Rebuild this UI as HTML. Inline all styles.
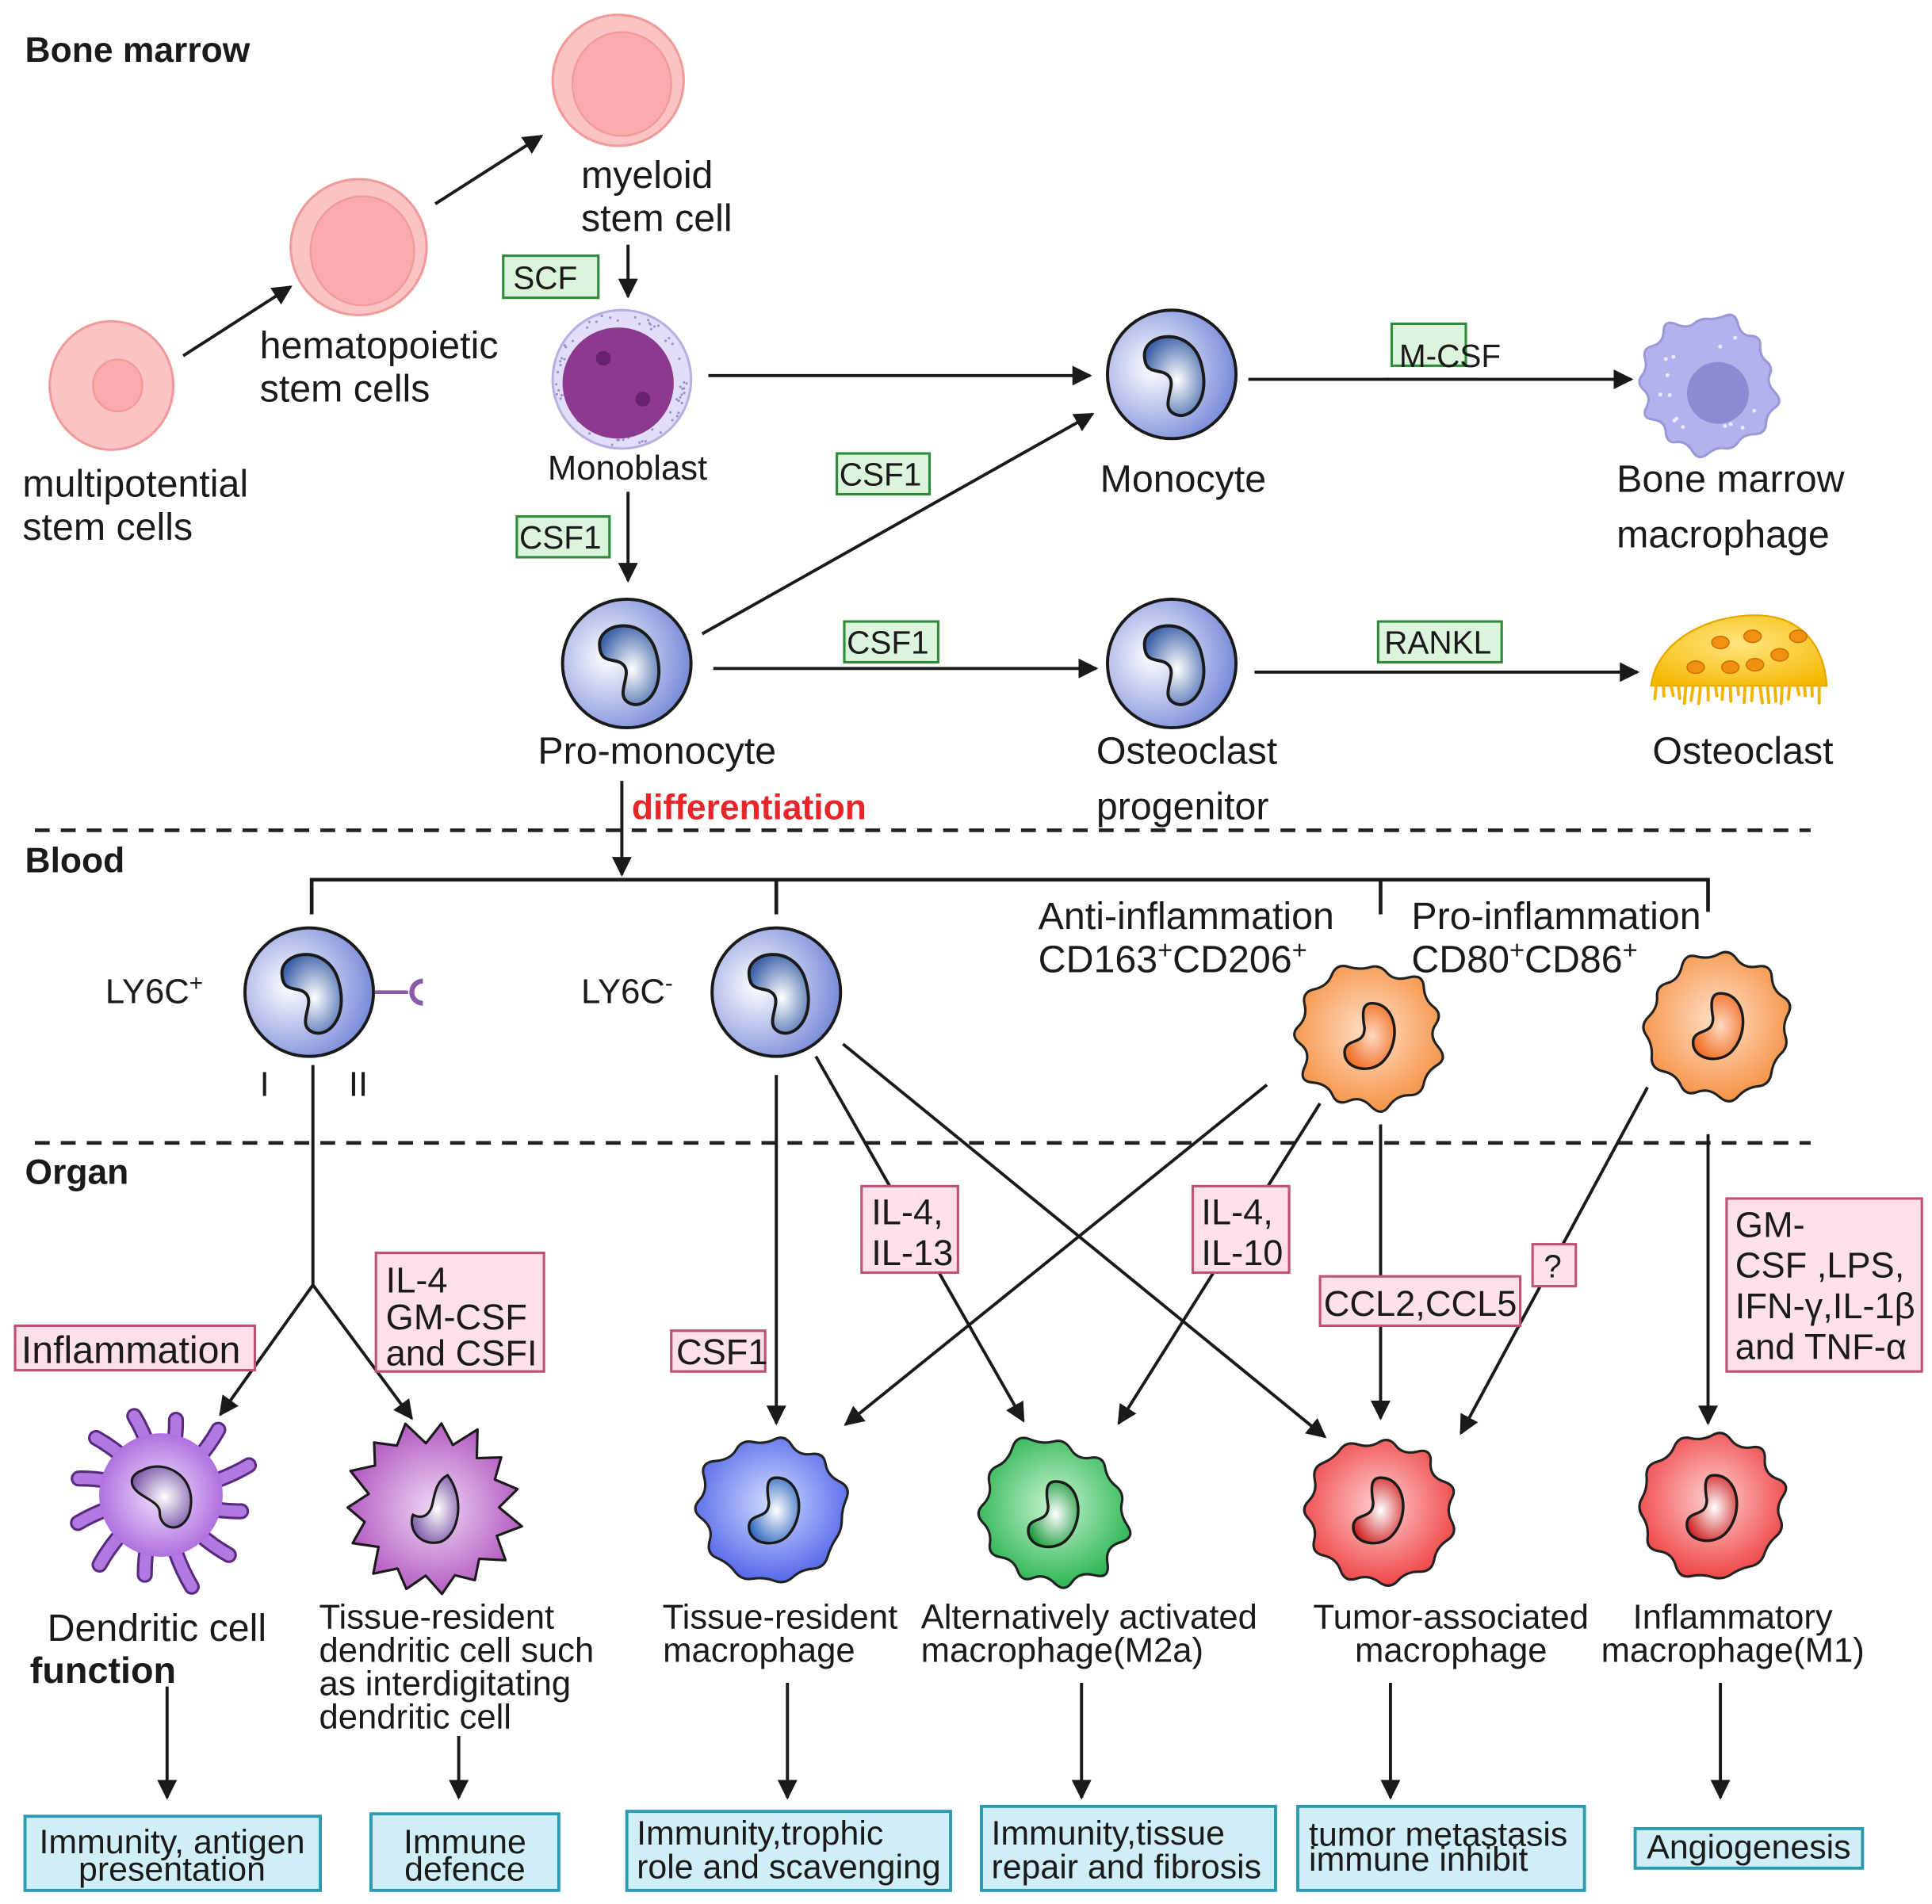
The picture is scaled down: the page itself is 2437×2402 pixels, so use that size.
<!DOCTYPE html>
<html><head><meta charset="utf-8"><style>
html,body{margin:0;padding:0;background:#fff;}
svg{display:block;}
text{font-family:"Liberation Sans",sans-serif;fill:#1a1a1a;}
.t{font-size:31px;}
.s{font-size:28px;}
.g{font-size:26px;}
.p{font-size:29px;}
.c{font-size:27.5px;}
.b{font-weight:bold;font-size:28.5px;}
</style></head><body>
<svg id="sv" width="2437" height="2402" viewBox="0 0 1563 1541" xmlns="http://www.w3.org/2000/svg">
<defs>
<marker id="ar2" viewBox="0 0 10 10" refX="9" refY="5" markerWidth="16" markerHeight="16" orient="auto" markerUnits="userSpaceOnUse"><path d="M0,0 L10,5 L0,10 Z" fill="#1a1a1a"/></marker>
<radialGradient id="gblue" cx="35%" cy="45%" r="70%"><stop offset="0" stop-color="#ffffff"/><stop offset="1" stop-color="#6e82d6"/></radialGradient>
<radialGradient id="gnuc" cx="55%" cy="55%" r="60%"><stop offset="0" stop-color="#ffffff"/><stop offset="1" stop-color="#3c62a8"/></radialGradient>
<radialGradient id="gor" cx="50%" cy="45%" r="60%"><stop offset="0" stop-color="#ffe0c8"/><stop offset="1" stop-color="#f58c3a"/></radialGradient>
<radialGradient id="gornuc" cx="55%" cy="50%" r="60%"><stop offset="0" stop-color="#ffd9c0"/><stop offset="1" stop-color="#f06a20"/></radialGradient>
<radialGradient id="gtb" cx="50%" cy="45%" r="60%"><stop offset="0" stop-color="#d0dcff"/><stop offset="1" stop-color="#4a5ee8"/></radialGradient>
<radialGradient id="gtbn" cx="55%" cy="50%" r="60%"><stop offset="0" stop-color="#ffffff"/><stop offset="1" stop-color="#2f68c0"/></radialGradient>
<radialGradient id="ggr" cx="50%" cy="45%" r="60%"><stop offset="0" stop-color="#c8f5d0"/><stop offset="1" stop-color="#1fb048"/></radialGradient>
<radialGradient id="ggrn" cx="55%" cy="50%" r="60%"><stop offset="0" stop-color="#ffffff"/><stop offset="1" stop-color="#1a9a3a"/></radialGradient>
<radialGradient id="grd" cx="50%" cy="45%" r="60%"><stop offset="0" stop-color="#ffd0d0"/><stop offset="1" stop-color="#ee3a3a"/></radialGradient>
<radialGradient id="grdn" cx="55%" cy="50%" r="60%"><stop offset="0" stop-color="#ffffff"/><stop offset="1" stop-color="#d02020"/></radialGradient>
<radialGradient id="gpu" cx="50%" cy="50%" r="60%"><stop offset="0" stop-color="#f2e2ff"/><stop offset="1" stop-color="#a25ad8"/></radialGradient>
<radialGradient id="gpu2" cx="50%" cy="50%" r="60%"><stop offset="0" stop-color="#efd8f5"/><stop offset="1" stop-color="#a845b8"/></radialGradient>
<radialGradient id="gpn" cx="55%" cy="50%" r="60%"><stop offset="0" stop-color="#ffffff"/><stop offset="1" stop-color="#7a55a8"/></radialGradient>
<radialGradient id="gyel" cx="50%" cy="40%" r="70%"><stop offset="0" stop-color="#ffe680"/><stop offset="1" stop-color="#f5b800"/></radialGradient>
</defs>

<g id="cells"></g>

<text x="20" y="50" class="b">Bone marrow</text>
<text x="20" y="706" class="b">Blood</text>
<text x="20" y="958" class="b">Organ</text>

<line x1="28" y1="672" x2="1465" y2="672" stroke="#222" stroke-width="3" stroke-dasharray="12,9"/>
<line x1="28" y1="925" x2="1465" y2="925" stroke="#222" stroke-width="3" stroke-dasharray="12,9"/>

<text x="18" y="402" class="t">multipotential</text>
<text x="18" y="437" class="t">stem cells</text>
<text x="210" y="290" class="t">hematopoietic</text>
<text x="210" y="325" class="t">stem cells</text>
<text x="470" y="152" class="t">myeloid</text>
<text x="470" y="187" class="t">stem cell</text>
<text x="443" y="388" class="s">Monoblast</text>
<text x="890" y="398" class="t">Monocyte</text>
<text x="1308" y="398" class="t">Bone marrow</text>
<text x="1308" y="443" class="t">macrophage</text>
<text x="435" y="618" class="t">Pro-monocyte</text>
<text x="887" y="618" class="t">Osteoclast</text>
<text x="887" y="663" class="t">progenitor</text>
<text x="1337" y="618" class="t">Osteoclast</text>
<text x="511" y="663" class="b" style="fill:#e8262a">differentiation</text>

<g stroke="#1a1a1a" stroke-width="2.5" fill="none">
<line x1="148" y1="288" x2="235" y2="232" marker-end="url(#ar2)"/>
<line x1="352" y1="165" x2="438" y2="110" marker-end="url(#ar2)"/>
<line x1="508" y1="198" x2="508" y2="240" marker-end="url(#ar2)"/>
<line x1="573" y1="304" x2="882" y2="304" marker-end="url(#ar2)"/>
<line x1="1010" y1="307" x2="1320" y2="307" marker-end="url(#ar2)"/>
<line x1="508" y1="398" x2="508" y2="470" marker-end="url(#ar2)"/>
<line x1="568" y1="513" x2="884" y2="335" marker-end="url(#ar2)"/>
<line x1="577" y1="541" x2="887" y2="541" marker-end="url(#ar2)"/>
<line x1="1015" y1="544" x2="1325" y2="544" marker-end="url(#ar2)"/>
<line x1="503" y1="632" x2="503" y2="708" marker-end="url(#ar2)"/>
<polyline points="252,740 252,712 1382,712 1382,738" stroke-width="3"/>
<line x1="628" y1="712" x2="628" y2="740" stroke-width="3"/>
<line x1="1117" y1="712" x2="1117" y2="740" stroke-width="3"/>
<polyline points="253,862 253,1040"/>
<line x1="253" y1="1040" x2="178" y2="1145" marker-end="url(#ar2)"/>
<line x1="253" y1="1040" x2="333" y2="1148" marker-end="url(#ar2)"/>
<line x1="628" y1="870" x2="628" y2="1152" marker-end="url(#ar2)"/>
<line x1="660" y1="855" x2="828" y2="1150" marker-end="url(#ar2)"/>
<line x1="682" y1="845" x2="1072" y2="1163" marker-end="url(#ar2)"/>
<line x1="1025" y1="878" x2="684" y2="1153" marker-end="url(#ar2)"/>
<line x1="1068" y1="893" x2="905" y2="1152" marker-end="url(#ar2)"/>
<line x1="1117" y1="910" x2="1117" y2="1148" marker-end="url(#ar2)"/>
<line x1="1333" y1="880" x2="1182" y2="1160" marker-end="url(#ar2)"/>
<line x1="1382" y1="918" x2="1382" y2="1152" marker-end="url(#ar2)"/>
<line x1="135" y1="1365" x2="135" y2="1455" marker-end="url(#ar2)"/>
<line x1="371" y1="1405" x2="371" y2="1455" marker-end="url(#ar2)"/>
<line x1="637" y1="1362" x2="637" y2="1455" marker-end="url(#ar2)"/>
<line x1="875" y1="1362" x2="875" y2="1455" marker-end="url(#ar2)"/>
<line x1="1125" y1="1362" x2="1125" y2="1455" marker-end="url(#ar2)"/>
<line x1="1392" y1="1362" x2="1392" y2="1455" marker-end="url(#ar2)"/>
</g>

<g fill="#dcf3dc" stroke="#2e8b3a" stroke-width="2">
<rect x="407" y="207" width="77" height="34"/>
<rect x="1126" y="262" width="60" height="34"/>
<rect x="677" y="367" width="75" height="33"/>
<rect x="418" y="418" width="75" height="33"/>
<rect x="683" y="503" width="76" height="33"/>
<rect x="1115" y="503" width="100" height="33"/>
</g>
<text x="415" y="234" class="g">SCF</text>
<text x="1132" y="297" class="g">M-CSF</text>
<text x="679" y="393" class="g">CSF1</text>
<text x="420" y="444" class="g">CSF1</text>
<text x="685" y="529" class="g">CSF1</text>
<text x="1120" y="529" class="g">RANKL</text>
<line x1="1120" y1="307" x2="1195" y2="307" stroke="#1a1a1a" stroke-width="2.5"/>

<text x="85" y="812" class="t" style="font-size:28px">LY6C<tspan dy="-10" font-size="19">+</tspan></text>
<text x="470" y="812" class="t" style="font-size:28px">LY6C<tspan dy="-10" font-size="19">-</tspan></text>
<text x="210" y="887" class="s">I</text>
<text x="282" y="887" class="s">II</text>
<text x="840" y="752" class="t">Anti-inflammation</text>
<text x="840" y="787" class="t">CD163<tspan dy="-11" font-size="21">+</tspan><tspan dy="11">CD206</tspan><tspan dy="-11" font-size="21">+</tspan></text>
<text x="1142" y="752" class="t">Pro-inflammation</text>
<text x="1142" y="787" class="t">CD80<tspan dy="-11" font-size="21">+</tspan><tspan dy="11">CD86</tspan><tspan dy="-11" font-size="21">+</tspan></text>

<g fill="#fde0ea" stroke="#c0507a" stroke-width="2">
<rect x="12" y="1073" width="194" height="36"/>
<rect x="304" y="1014" width="136" height="96"/>
<rect x="543" y="1077" width="76" height="33"/>
<rect x="697" y="960" width="78" height="70"/>
<rect x="965" y="960" width="78" height="70"/>
<rect x="1068" y="1033" width="162" height="40"/>
<rect x="1240" y="1007" width="35" height="34"/>
<rect x="1397" y="970" width="158" height="140"/>
</g>
<text x="17" y="1103" class="t">Inflammation</text>
<text x="312" y="1046" class="p">IL-4</text>
<text x="312" y="1076" class="p">GM-CSF</text>
<text x="312" y="1105" class="p">and CSFI</text>
<text x="547" y="1104" class="p">CSF1</text>
<text x="705" y="991" class="p">IL-4,</text>
<text x="705" y="1024" class="p">IL-13</text>
<text x="972" y="991" class="p">IL-4,</text>
<text x="972" y="1024" class="p">IL-10</text>
<text x="1071" y="1065" class="p">CCL2,CCL5</text>
<text x="1249" y="1034" class="g">?</text>
<text x="1404" y="1001" class="p">GM-</text>
<text x="1404" y="1034" class="p">CSF ,LPS,</text>
<text x="1404" y="1067" class="p">IFN-γ,IL-1β</text>
<text x="1404" y="1100" class="p">and TNF-α</text>

<text x="38" y="1328" class="t">Dendritic cell</text>
<text x="24" y="1362" class="b" style="font-size:30px">function</text>
<text x="258" y="1318" class="s">Tissue-resident</text>
<text x="258" y="1345" class="s">dendritic cell such</text>
<text x="258" y="1372" class="s">as interdigitating</text>
<text x="258" y="1399" class="s">dendritic cell</text>
<text x="631" y="1318" class="s" text-anchor="middle">Tissue-resident</text>
<text x="614" y="1345" class="s" text-anchor="middle">macrophage</text>
<text x="745" y="1318" class="s">Alternatively activated</text>
<text x="745" y="1345" class="s">macrophage(M2a)</text>
<text x="1174" y="1318" class="s" text-anchor="middle">Tumor-associated</text>
<text x="1174" y="1345" class="s" text-anchor="middle">macrophage</text>
<text x="1402" y="1318" class="s" text-anchor="middle">Inflammatory</text>
<text x="1402" y="1345" class="s" text-anchor="middle">macrophage(M1)</text>

<g fill="#d0eef5" stroke="#2a9bb0" stroke-width="2.5">
<rect x="20" y="1470" width="239" height="60"/>
<rect x="300" y="1468" width="152" height="62"/>
<rect x="507" y="1466" width="262" height="64"/>
<rect x="794" y="1462" width="238" height="68"/>
<rect x="1050" y="1462" width="232" height="68"/>
<rect x="1323" y="1480" width="184" height="32"/>
</g>
<text x="139" y="1500" text-anchor="middle" class="c">Immunity, antigen</text>
<text x="139" y="1522" text-anchor="middle" class="c">presentation</text>
<text x="376" y="1500" text-anchor="middle" class="c">Immune</text>
<text x="376" y="1522" text-anchor="middle" class="c">defence</text>
<text x="515" y="1493" class="c">Immunity,trophic</text>
<text x="515" y="1520" class="c">role and scavenging</text>
<text x="802" y="1493" class="c">Immunity,tissue</text>
<text x="802" y="1520" class="c">repair and fibrosis</text>
<text x="1059" y="1494" class="c">tumor metastasis</text>
<text x="1059" y="1514" class="c">immune inhibit</text>
<text x="1415" y="1504" text-anchor="middle" class="c">Angiogenesis</text>
</svg>
<script>
var NS="http://www.w3.org/2000/svg";
var g=document.getElementById("cells");
function el(tag,attrs){var e=document.createElementNS(NS,tag);for(var k in attrs)e.setAttribute(k,attrs[k]);g.appendChild(e);return e;}
function rnd(s){var x=Math.sin(s*9301+49297)*233280;return x-Math.floor(x);}
function blob(cx,cy,r,n,amp,seed,fill,stroke){
 var pts=[];for(var i=0;i<n;i++){var a=i/n*2*Math.PI;var rr=r+(i%2?amp:-amp*0.3)*(0.6+0.8*rnd(seed+i))+(rnd(seed*3+i)-0.5)*8;pts.push([cx+rr*Math.cos(a),cy+rr*Math.sin(a)]);}
 var d="";for(var i=0;i<n;i++){var p=pts[i],q=pts[(i+1)%n];var m=[(p[0]+q[0])/2,(p[1]+q[1])/2];if(i==0){var pm=pts[n-1];d+="M"+((pm[0]+p[0])/2)+","+((pm[1]+p[1])/2);}d+=" Q"+p[0]+","+p[1]+" "+m[0]+","+m[1];}
 el("path",{d:d+"Z",fill:fill,stroke:stroke||"#222","stroke-width":2});
}
function stem(cx,cy,rx,ry,ir,icx,icy){el("ellipse",{cx:cx,cy:cy,rx:rx,ry:ry,fill:"#fbc4c4",stroke:"#f29a9a","stroke-width":2});el("ellipse",{cx:icx||cx,cy:icy||cy,rx:ir,ry:ir*1.05,fill:"#f9aaaa",stroke:"#f29a9a","stroke-width":1.5});}
function mono(cx,cy,r){el("circle",{cx:cx,cy:cy,r:r,fill:"url(#gblue)",stroke:"#1a1a1a","stroke-width":2.5});
 el("path",{d:"M-22,-14 C-24,-34 16,-40 24,-8 C32,22 14,38 2,32 C-10,26 4,10 -2,2 C-8,-6 -21,2 -22,-14Z",transform:"translate("+cx+","+cy+") scale("+(r/52)+")",fill:"url(#gnuc)",stroke:"#1a1a1a","stroke-width":2.5});}
function macro(cx,cy,r,fill,nfill,seed){blob(cx,cy,r,22,10,seed,fill);
 el("path",{d:"M2,-26 C22,-26 26,4 12,20 C2,32 -22,28 -20,12 C-18,2 -4,8 -4,-6 C-6,-18 -6,-26 2,-26Z",transform:"translate("+cx+","+cy+")",fill:nfill,stroke:"#1a1a1a","stroke-width":2.2});}
stem(90,312,50,52,20,95,312);
stem(290,200,55,55,42,293,203);
stem(500,65,53,53,40,503,68);
el("circle",{cx:503,cy:307,r:56,fill:"#e2defa",stroke:"#b8b0e0","stroke-width":2});
for(var i=0;i<60;i++){var a=rnd(i)*6.28,rr=47+rnd(i+100)*7;el("circle",{cx:503+rr*Math.cos(a),cy:307+rr*Math.sin(a),r:1,fill:"#9a90c8"});}
el("circle",{cx:500,cy:310,r:45,fill:"#8b3a90"});
el("circle",{cx:488,cy:290,r:6,fill:"#6a2070"});el("circle",{cx:520,cy:323,r:6,fill:"#6a2070"});
mono(948,303,52);mono(507,537,52);mono(948,537,52);mono(250,803,52);mono(628,803,52);
el("line",{x1:303,y1:803,x2:330,y2:803,stroke:"#8a5aa8","stroke-width":3});
el("path",{d:"M342,794 A9,9 0 1,0 342,812",fill:"none",stroke:"#8a5aa8","stroke-width":4});
blob(1382,310,52,26,7,3,"#b4b2ec","#9a98d8");
el("circle",{cx:1390,cy:318,r:25,fill:"#8c8ad2"});
for(var i=0;i<14;i++){var a=rnd(i+50)*6.28,rr=32+rnd(i+70)*14;el("circle",{cx:1385+rr*Math.cos(a),cy:312+rr*Math.sin(a),r:1.6,fill:"#e8e8ff"});}
el("path",{d:"M1336,555 C1340,520 1380,498 1420,498 C1460,498 1476,525 1478,555 Z",fill:"url(#gyel)",stroke:"#e8a800","stroke-width":1.5});
for(var x=1340;x<1476;x+=6){el("line",{x1:x,y1:555,x2:x+(rnd(x)-0.5)*4,y2:562+rnd(x+3)*8,stroke:"#f0b400","stroke-width":2.5,"stroke-linecap":"round"});}
[[1392,520],[1418,515],[1440,530],[1400,540],[1420,538],[1372,540],[1455,515]].forEach(function(p){el("ellipse",{cx:p[0],cy:p[1],rx:7,ry:5,fill:"#f09010",stroke:"#d07000","stroke-width":1});});
macro(1108,838,55,"url(#gor)","url(#gornuc)",11);
macro(1390,830,55,"url(#gor)","url(#gornuc)",21);
macro(626,1222,55,"url(#gtb)","url(#gtbn)",31);
macro(852,1225,55,"url(#ggr)","url(#ggrn)",41);
macro(1115,1222,55,"url(#grd)","url(#grdn)",51);
macro(1385,1220,55,"url(#grd)","url(#grdn)",61);
(function(){var cx=130,cy=1210;for(var i=0;i<12;i++){var a=i/12*6.28+0.2,L=62+rnd(i+200)*22;var x2=cx+L*Math.cos(a),y2=cy+L*Math.sin(a);var mx=cx+L*0.6*Math.cos(a+0.15),my=cy+L*0.6*Math.sin(a+0.15);var d="M"+cx+","+cy+" Q"+mx+","+my+" "+x2+","+y2;el("path",{d:d,fill:"none",stroke:"#5a2a80","stroke-width":13,"stroke-linecap":"round"});el("path",{d:d,fill:"none",stroke:"#b07ae0","stroke-width":9,"stroke-linecap":"round"});}
 el("circle",{cx:cx,cy:cy,r:50,fill:"url(#gpu)"});
 el("path",{d:"M-18,-20 C0,-30 28,-15 20,15 C14,32 -4,28 -4,14 C-4,4 -22,2 -26,-8 C-28,-14 -24,-18 -18,-20Z",transform:"translate(133,1210)",fill:"url(#gpn)",stroke:"#1a1a1a","stroke-width":2});})();
(function(){var cx=350,cy=1220,n=30,d="";for(var i=0;i<n;i++){var a=i/n*6.28,rr=(i%2?68:52)+rnd(i+300)*6;var x=cx+rr*Math.cos(a),y=cy+rr*Math.sin(a);d+=(i?" L":"M")+x+","+y;}
 el("path",{d:d+"Z",fill:"url(#gpu2)",stroke:"#1a1a1a","stroke-width":2,"stroke-linejoin":"round"});
 el("path",{d:"M10,-28 C24,-10 20,20 4,26 C-14,30 -22,14 -18,4 C-10,8 -4,4 -2,-6 C0,-16 2,-24 10,-28Z",transform:"translate(352,1222)",fill:"url(#gpn)",stroke:"#1a1a1a","stroke-width":2});})();
</script>
</body></html>
